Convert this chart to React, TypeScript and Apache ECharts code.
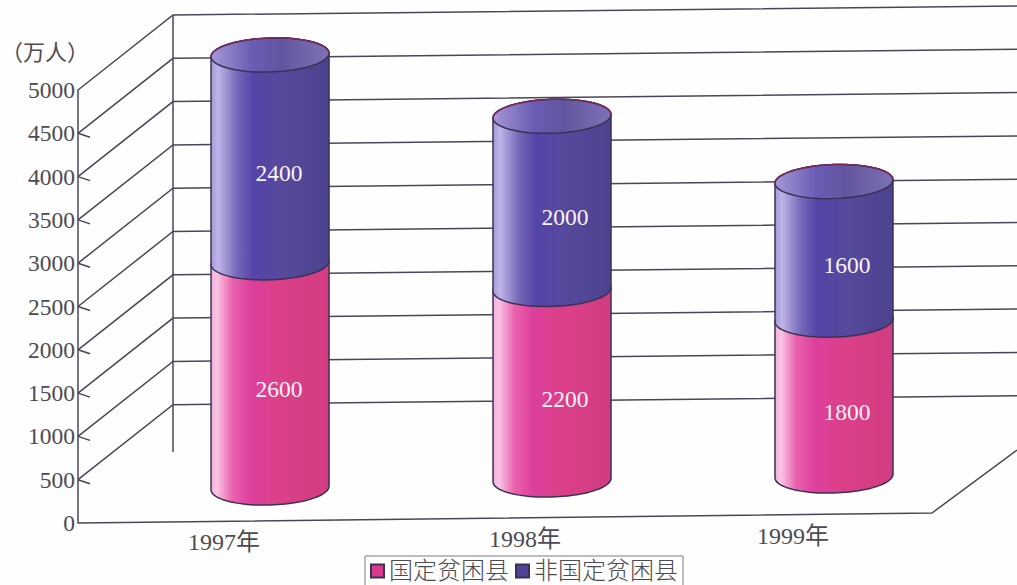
import React, { useEffect, useRef } from "react";
import * as echarts from "echarts";

const categories = ["1997年", "1998年", "1999年"];
const poorCounties = [2600, 2200, 1800];
const otherCounties = [2400, 2000, 1600];
const yTicks = [500, 1000, 1500, 2000, 2500, 3000, 3500, 4000, 4500, 5000];

const PINK = "#d93a8e";
const BLUE = "#4f4498";
const LINE = "#4a4658";
const TEXT = "#4d4b50";
const SERIF = '"Liberation Serif", "Noto Sans CJK SC", serif';
const CJK = '"Liberation Serif", "Noto Sans CJK SC", sans-serif';

// drawing constants of the pseudo-3D box and cylinders (px)
const X_MIN = -0.681;
const X_MAX = 2.649;
const DEPTH_X = 95;
const DEPTH_Y = -75;
const RX = 59;
const RY = 17;
const TILT = 0.03;
const liftByCategory = [35, 43, 47];
const axisLabelDx = [-46, -27, -41];
const valueDx = [9, 13, 13];

function arc(cx: number, cy: number, from: number, to: number) {
  const pts: number[][] = [];
  const n = 48;
  for (let i = 0; i <= n; i++) {
    const t = from + ((to - from) * i) / n;
    const dx = RX * Math.cos(t);
    pts.push([cx + dx, cy + RY * Math.sin(t) - TILT * dx]);
  }
  return pts;
}

const pinkGradient = () =>
  new echarts.graphic.LinearGradient(0, 0, 1, 0, [
    { offset: 0, color: "#f4aed8" },
    { offset: 0.05, color: "#f9c4e4" },
    { offset: 0.18, color: "#ea62ae" },
    { offset: 0.34, color: "#dc3f9c" },
    { offset: 0.55, color: "#dc4089" },
    { offset: 1, color: "#d23c80" },
  ]);
const blueGradient = () =>
  new echarts.graphic.LinearGradient(0, 0, 1, 0, [
    { offset: 0, color: "#a79ad8" },
    { offset: 0.06, color: "#bfb4e8" },
    { offset: 0.22, color: "#7568b8" },
    { offset: 0.36, color: "#5444a8" },
    { offset: 0.6, color: "#56499c" },
    { offset: 1, color: "#4c4390" },
  ]);
const capGradient = () =>
  new echarts.graphic.LinearGradient(0, 0, 1, 0, [
    { offset: 0, color: "#a498d6" },
    { offset: 0.35, color: "#6a5cb4" },
    { offset: 0.6, color: "#62559f" },
    { offset: 1, color: "#7d72b4" },
  ]);

function cylinderPiece(api: any, stackBelow: number[], fill: () => any, withCap: boolean) {
  const i = api.value(0);
  const v = api.value(1);
  const lift = liftByCategory[i];
  const low = api.coord([i, stackBelow[i]]);
  const high = api.coord([i, stackBelow[i] + v]);
  const cx = low[0];
  const yLow = low[1] - lift;
  const yHigh = high[1] - lift;
  const stroke = { stroke: "#3a3254", lineWidth: 1.5 };
  const children: any[] = [
    {
      type: "polygon",
      shape: { points: [...arc(cx, yLow, Math.PI, 0), ...arc(cx, yHigh, 0, -Math.PI)] },
      style: { fill: fill(), ...stroke },
    },
  ];
  if (withCap) {
    children.push({
      type: "polygon",
      shape: { points: arc(cx, yHigh, 0, Math.PI * 2) },
      style: { fill: capGradient(), ...stroke },
    });
    children.push({
      type: "polyline",
      shape: { points: arc(cx, yHigh, 0, -Math.PI) },
      style: { fill: "none", stroke: "#7c2a5c", lineWidth: 1.4 },
    });
  }
  children.push({
    type: "text",
    style: {
      text: String(v),
      x: cx + valueDx[i],
      y: (yLow + yHigh) / 2 + 14,
      fill: "#fbf3fa",
      fontFamily: SERIF,
      fontSize: 23.5,
      align: "center",
      verticalAlign: "middle",
    },
    z2: 5,
  });
  return { type: "group", children };
}

export default function App() {
  const ref = useRef<HTMLDivElement>(null);

  useEffect(() => {
    document.body.style.margin = "0";
    const chart = echarts.init(ref.current!, undefined, { renderer: "svg" });
    const zeros = poorCounties.map(() => 0);

    chart.setOption({
      animation: false,
      backgroundColor: "#fefefe",
      grid: {
        left: 78,
        right: 0,
        top: 90,
        bottom: 62,
        containLabel: false,
        outerBoundsMode: "none",
      },
      xAxis: { type: "value", min: X_MIN, max: X_MAX, show: false },
      yAxis: {
        type: "value",
        min: 0,
        max: 5000,
        interval: 500,
        name: "（万人）",
        nameLocation: "end",
        nameGap: 27,
        nameTextStyle: {
          color: TEXT,
          fontFamily: CJK,
          fontSize: 22,
          align: "center",
          padding: [0, 66, 0, 0],
        },
        axisLine: { show: true, onZero: false, lineStyle: { color: LINE, width: 1.5 } },
        axisTick: { show: false },
        splitLine: { show: false },
        axisLabel: {
          color: TEXT,
          fontFamily: SERIF,
          fontSize: 23.5,
          margin: 3,
          formatter: (v: number) => String(v),
        },
      },
      legend: {
        left: 365,
        top: 556,
        orient: "horizontal",
        data: ["国定贫困县", "非国定贫困县"],
        icon: "rect",
        selectedMode: false,
        itemWidth: 13,
        itemHeight: 13,
        itemGap: 6,
        padding: [3, 5, 3, 5],
        borderColor: "#7d7a80",
        borderWidth: 1,
        backgroundColor: "#fefefe",
        textStyle: {
          color: TEXT,
          fontFamily: CJK,
          fontSize: 24,
          fontWeight: 300,
          padding: [0, 0, 0, 0],
        },
      },
      series: [
        {
          type: "custom",
          name: "wall",
          clip: false,
          silent: true,
          z: 1,
          data: yTicks.map((t) => [0, t]),
          renderItem: (_: any, api: any) => {
            const p = api.coord([X_MIN, api.value(1)]);
            const bx = p[0] + DEPTH_X;
            const by = p[1] + DEPTH_Y;
            const s = { stroke: LINE, lineWidth: 1.5, fill: "none" };
            const children: any[] = [
              {
                type: "polyline",
                shape: { points: [p, [bx, by], [1017, by - 9]] },
                style: s,
              },
            ];
            if (api.value(1) < 5000) {
              children.push({
                type: "line",
                shape: { x1: p[0], y1: p[1], x2: p[0] + 12, y2: p[1] + 4 },
                style: s,
              });
            }
            return { type: "group", children };
          },
        },
        {
          type: "custom",
          name: "frame",
          clip: false,
          silent: true,
          z: 1,
          data: [[0, 0]],
          renderItem: (_: any, api: any) => {
            const o = api.coord([X_MIN, 0]);
            const top = api.coord([X_MIN, 5000]);
            const s = { stroke: LINE, lineWidth: 1.5, fill: "none" };
            return {
              type: "group",
              children: [
                {
                  type: "line",
                  shape: {
                    x1: top[0] + DEPTH_X,
                    y1: top[1] + DEPTH_Y,
                    x2: top[0] + DEPTH_X,
                    y2: o[1] + DEPTH_Y + 4,
                  },
                  style: s,
                },
                {
                  type: "polyline",
                  shape: { points: [o, [o[0] + 854, o[1] - 10], [1017, o[1] - 73]] },
                  style: s,
                },
              ],
            };
          },
        },
        {
          type: "custom",
          name: "国定贫困县",
          clip: false,
          z: 3,
          itemStyle: { color: PINK, borderColor: "#3a3254", borderWidth: 1 },
          data: poorCounties.map((v, i) => [i, v]),
          renderItem: (_: any, api: any) => cylinderPiece(api, zeros, pinkGradient, false),
        },
        {
          type: "custom",
          name: "非国定贫困县",
          clip: false,
          z: 4,
          itemStyle: { color: BLUE, borderColor: "#3a3254", borderWidth: 1 },
          data: otherCounties.map((v, i) => [i, v]),
          renderItem: (_: any, api: any) => cylinderPiece(api, poorCounties, blueGradient, true),
        },
        {
          type: "custom",
          name: "categoryLabels",
          clip: false,
          silent: true,
          z: 5,
          data: categories.map((_, i) => [i, 0]),
          renderItem: (_: any, api: any) => {
            const i = api.value(0);
            const p = api.coord([i, 0]);
            return {
              type: "text",
              style: {
                text: categories[i],
                x: p[0] + axisLabelDx[i],
                y: p[1] + 19 - i * 3,
                fill: TEXT,
                fontFamily: CJK,
                fontSize: 24,
                align: "center",
                verticalAlign: "middle",
              },
            };
          },
        },
      ],
    });
    return () => chart.dispose();
  }, []);

  return (
    <div
      ref={ref}
      style={{ position: "fixed", left: 0, top: 0, width: 1017, height: 585 }}
    />
  );
}
